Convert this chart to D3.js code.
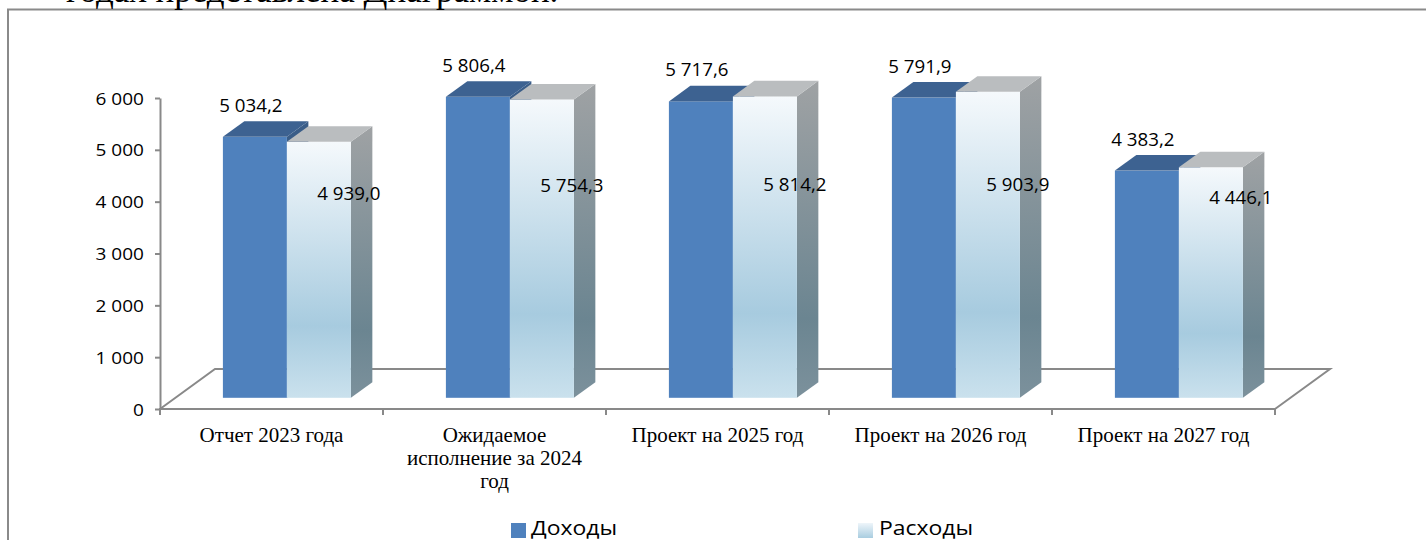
<!DOCTYPE html>
<html>
<head>
<meta charset="utf-8">
<script src="https://cdn.jsdelivr.net/npm/d3@7"></script>
<style>
  body { margin: 0; background: #fff; }
  svg { display: block; }
</style>
</head>
<body>
<div id="chart-area"></div>
<script>
// data
var categories = ["Отчет 2023 года", "Ожидаемое исполнение за 2024 год", "Проект на 2025 год", "Проект на 2026 год", "Проект на 2027 год"];
var categoryLines = [["Отчет 2023 года"], ["Ожидаемое", "исполнение за 2024", "год"], ["Проект на 2025 год"], ["Проект на 2026 год"], ["Проект на 2027 год"]];
var seriesNames = ["Доходы", "Расходы"];
var income = [5034.2, 5806.4, 5717.6, 5791.9, 4383.2];
var expenses = [4939.0, 5754.3, 5814.2, 5903.9, 4446.1];
var yTicks = [0, 1000, 2000, 3000, 4000, 5000, 6000];

var svg = d3.select("#chart-area")
  .append("svg")
  .attr("width", 1426)
  .attr("height", 540);

var defs = svg.append("defs");

var gFront = defs.append("linearGradient").attr("id", "expFront")
  .attr("x1", 0).attr("y1", 0).attr("x2", 0).attr("y2", 1);
gFront.append("stop").attr("offset", "0%").attr("stop-color", "#f5f9fc");
gFront.append("stop").attr("offset", "72%").attr("stop-color", "#a7cbdf");
gFront.append("stop").attr("offset", "100%").attr("stop-color", "#cae1ed");

var gSide = defs.append("linearGradient").attr("id", "expSide")
  .attr("x1", 0).attr("y1", 0).attr("x2", 0).attr("y2", 1);
gSide.append("stop").attr("offset", "0%").attr("stop-color", "#9fa2a4");
gSide.append("stop").attr("offset", "75%").attr("stop-color", "#6b8591");
gSide.append("stop").attr("offset", "100%").attr("stop-color", "#7c919c");

var gLeg = defs.append("linearGradient").attr("id", "expLegend")
  .attr("x1", 0).attr("y1", 0).attr("x2", 0).attr("y2", 1);
gLeg.append("stop").attr("offset", "0%").attr("stop-color", "#eef5fa");
gLeg.append("stop").attr("offset", "100%").attr("stop-color", "#a9cde0");

var locale = d3.formatLocale({ decimal: ",", thousands: "\u00a0", grouping: [3], currency: ["", ""] });
var fmtTick = locale.format(",.0f");
var fmtVal = locale.format(",.1f");

var axisColor = "#898989";
var sansFont = "'Open Sans', sans-serif";
var serifFont = "'Liberation Serif', 'Times New Roman', serif";

// text with a slight horizontal stretch
function label(parent, x, y, txt, size, sx, anchor, family) {
  return parent.append("text")
    .attr("transform", "translate(" + x + "," + y + ") scale(" + sx + ",1)")
    .attr("text-anchor", anchor)
    .attr("font-family", family)
    .attr("font-size", size)
    .attr("fill", "#000")
    .text(txt);
}

// frame and the clipped document line above it
svg.append("rect")
  .attr("x", 8).attr("y", 9.5)
  .attr("width", 1440).attr("height", 560)
  .attr("fill", "none")
  .attr("stroke", "#8a8a8a")
  .attr("stroke-width", 2);

svg.append("text")
  .attr("x", 66).attr("y", 2)
  .attr("font-family", serifFont)
  .attr("font-size", 35)
  .attr("fill", "#000")
  .text("годах представлена Диаграммой.");

// scales
var x = d3.scaleBand()
  .domain(categories)
  .range([160, 1275]);

var inner = d3.scaleBand()
  .domain(seriesNames)
  .range([0, 128]);

var y = d3.scaleLinear()
  .domain([0, 6000])
  .range([409, 98]);

var depthX = 55, depthY = 40;
var zFront = 0.28, zBack = 0.67;

function pt(px, v, z) {
  return [px + z * depthX, y(v) - z * depthY];
}

// floor
var floor = svg.append("g").attr("fill", "none").attr("stroke", axisColor).attr("stroke-width", 2);
floor.append("path")
  .attr("d", d3.line()([pt(160, 0, 0), pt(160, 0, 1), pt(1275, 0, 1), pt(1275, 0, 0)]));

// y axis
var yAxis = d3.axisLeft(y)
  .tickValues(yTicks)
  .tickSize(5)
  .tickSizeOuter(0)
  .tickFormat(fmtTick);

var yg = svg.append("g")
  .attr("transform", "translate(160,0)")
  .call(yAxis);
yg.select(".domain").attr("stroke", axisColor).attr("stroke-width", 2);
yg.selectAll(".tick line").attr("stroke", axisColor).attr("stroke-width", 2);
yg.selectAll(".tick text")
  .attr("x", null).attr("dy", null)
  .attr("transform", "translate(-16,6) scale(1.12,1)")
  .attr("font-family", sansFont)
  .attr("font-size", 17)
  .attr("fill", "#000");

// front category axis
var xg = svg.append("g").attr("stroke", axisColor).attr("stroke-width", 2);
xg.append("line").attr("x1", 159).attr("x2", 1276).attr("y1", y(0)).attr("y2", y(0));
xg.selectAll("line.tick")
  .data(categories.concat(["end"]))
  .enter()
  .append("line")
  .attr("class", "tick")
  .attr("x1", function(d) { return d === "end" ? x.range()[1] : x(d); })
  .attr("x2", function(d) { return d === "end" ? x.range()[1] : x(d); })
  .attr("y1", y(0))
  .attr("y2", y(0) + 6);

var catLabels = svg.append("g");
categories.forEach(function(c, i) {
  categoryLines[i].forEach(function(line, j) {
    catLabels.append("text")
      .attr("x", x(c) + x.bandwidth() / 2)
      .attr("y", 442 + j * 23)
      .attr("text-anchor", "middle")
      .attr("font-family", serifFont)
      .attr("font-size", 21)
      .attr("fill", "#000")
      .text(line);
  });
});

// 3D bars
var pad = (x.bandwidth() - 128) / 2;
var bars = svg.append("g");
var styles = {
  "Доходы": { front: "#4f81bd", top: "#3d6291", side: "#3a5d88" },
  "Расходы": { front: "url(#expFront)", top: "#babdbf", side: "url(#expSide)" }
};

categories.forEach(function(c, i) {
  [income[i], expenses[i]].forEach(function(v, k) {
    var s = seriesNames[k];
    var st = styles[s];
    var x0 = x(c) + pad + inner(s);
    var x1 = x0 + inner.bandwidth();
    var fTL = pt(x0, v, zFront), fTR = pt(x1, v, zFront), fBR = pt(x1, 0, zFront);
    var bTL = pt(x0, v, zBack), bTR = pt(x1, v, zBack), bBR = pt(x1, 0, zBack);

    bars.append("path")
      .attr("d", d3.line()([fTR, bTR, bBR, fBR]) + "Z")
      .attr("fill", st.side);
    bars.append("rect")
      .attr("x", fTL[0]).attr("y", fTL[1])
      .attr("width", x1 - x0)
      .attr("height", fBR[1] - fTL[1])
      .attr("fill", st.front);
    bars.append("path")
      .attr("d", d3.line()([fTL, fTR, bTR, bTL]) + "Z")
      .attr("fill", st.top);
  });
});

// data labels
var labels = svg.append("g");
categories.forEach(function(c, i) {
  var xi = x(c) + pad + inner("Доходы") + zFront * depthX + inner.bandwidth() / 2;
  var topI = y(income[i]) - zFront * depthY;
  label(labels, xi - 4, topI - 25, fmtVal(income[i]), 18, 1.04, "middle", sansFont);

  var xe = x(c) + pad + inner("Расходы") + inner.bandwidth() + zFront * depthX;
  var topE = y(expenses[i]) - zFront * depthY;
  label(labels, xe - 2, 0.18 * topE + 174, fmtVal(expenses[i]), 18, 1.04, "middle", sansFont);
});

// legend
var legend = svg.append("g");
legend.append("rect").attr("x", 511).attr("y", 523).attr("width", 15).attr("height", 15).attr("fill", "#4f81bd");
label(legend, 531, 534.5, seriesNames[0], 20.5, 1.12, "start", sansFont);
legend.append("rect").attr("x", 858).attr("y", 523).attr("width", 15).attr("height", 15).attr("fill", "url(#expLegend)");
label(legend, 879, 534.5, seriesNames[1], 20.5, 1.12, "start", sansFont);
</script>
</body>
</html>
